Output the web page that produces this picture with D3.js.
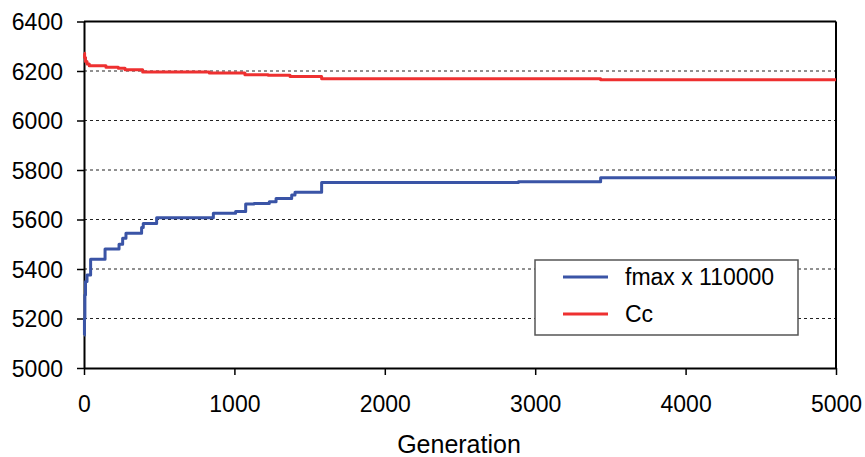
<!DOCTYPE html>
<html><head><meta charset="utf-8">
<script src="https://cdn.jsdelivr.net/npm/d3@7"></script>
<style>body{margin:0;background:#fff}svg{display:block}text{font-family:"Liberation Sans",Arial,sans-serif;fill:#000}</style>
</head><body><svg id="c" width="865" height="457"></svg>
<script>
const xTicks = [0, 1000, 2000, 3000, 4000, 5000];
const yTicks = [5000, 5200, 5400, 5600, 5800, 6000, 6200, 6400];
const seriesNames = ["fmax x 110000", "Cc"];
const fmaxGen = [0, 3, 6, 10, 20, 44, 140, 233, 257, 279, 383, 394, 483, 860, 1008, 1075, 1130, 1232, 1277, 1381, 1403, 1580, 2888, 3435, 5000];
const fmaxVal = [5133, 5200, 5295, 5349, 5376, 5439, 5481, 5500, 5524, 5544, 5568, 5584, 5607, 5625, 5632, 5663, 5665, 5672, 5685, 5699, 5710, 5749, 5753, 5769, 5769];
const ccGen = [0, 4, 10, 20, 35, 146, 228, 273, 390, 833, 1070, 1225, 1370, 1580, 3435, 5000];
const ccVal = [6272, 6255, 6238, 6228, 6221, 6215, 6211, 6205, 6196, 6192, 6185, 6183, 6178, 6169, 6165, 6165];
const colors = ["#3a54a6", "#ee3030"];

const L = 84, R = 836, T = 21.5, B = 368;
const svg = d3.select("#c");
const x = d3.scaleLinear().domain([0, 5000]).range([L, R]);
const y = d3.scaleLinear().domain([5000, 6400]).range([B, T]);

// gridlines
svg.append("g").selectAll("line").data(yTicks.filter(v => v > 5000 && v < 6400)).join("line")
  .attr("x1", L).attr("x2", R).attr("y1", d => y(d)).attr("y2", d => y(d))
  .attr("stroke", "#222").attr("stroke-width", 1).attr("stroke-dasharray", "3,3");

// frame top/right
svg.append("line").attr("x1", L).attr("x2", R).attr("y1", T).attr("y2", T).attr("stroke", "#000").attr("stroke-width", 2);
svg.append("line").attr("x1", R).attr("x2", R).attr("y1", T).attr("y2", B).attr("stroke", "#000").attr("stroke-width", 2);

// axes
const xAxis = svg.append("g").attr("transform", `translate(0,${B})`)
  .call(d3.axisBottom(x).tickValues(xTicks).tickFormat(d3.format("d")).tickSize(7).tickSizeOuter(0));
const yAxis = svg.append("g").attr("transform", `translate(${L},0)`)
  .call(d3.axisLeft(y).tickValues(yTicks).tickFormat(d3.format("d")).tickSize(7).tickSizeOuter(0));
[xAxis, yAxis].forEach(a => {
  a.select(".domain").attr("stroke", "#000").attr("stroke-width", 2);
  a.selectAll(".tick line").attr("stroke", "#000").attr("stroke-width", 1.5);
  a.selectAll("text").attr("font-size", 23).attr("font-family", "Liberation Sans, Arial, sans-serif").attr("fill", "#000");
});
xAxis.selectAll("text").attr("dy", "0").attr("y", 44);
yAxis.selectAll("text").attr("x", -21).attr("dy", "0.36em");

// lines
const line = d3.line().x(d => x(d[0])).y(d => y(d[1])).curve(d3.curveStepAfter);
const data = [d3.zip(fmaxGen, fmaxVal), d3.zip(ccGen, ccVal)];
data.forEach((d, i) => {
  svg.append("path").datum(d).attr("d", line).attr("fill", "none")
    .attr("stroke", colors[i]).attr("stroke-width", 3).attr("stroke-linejoin", "round");
});

// x label
svg.append("text").attr("x", 459).attr("y", 453).attr("text-anchor", "middle")
  .attr("font-size", 25).text("Generation");

// legend
const lg = svg.append("g");
lg.append("rect").attr("x", 535).attr("y", 260).attr("width", 263).attr("height", 75)
  .attr("fill", "#fff").attr("stroke", "#555").attr("stroke-width", 1.5);
seriesNames.forEach((n, i) => {
  const yy = 277 + i * 37;
  lg.append("line").attr("x1", 563).attr("x2", 608).attr("y1", yy).attr("y2", yy)
    .attr("stroke", colors[i]).attr("stroke-width", 3);
  lg.append("text").attr("x", 625).attr("y", yy).attr("dy", "0.36em").attr("font-size", 23).text(n);
});
</script></body></html>
